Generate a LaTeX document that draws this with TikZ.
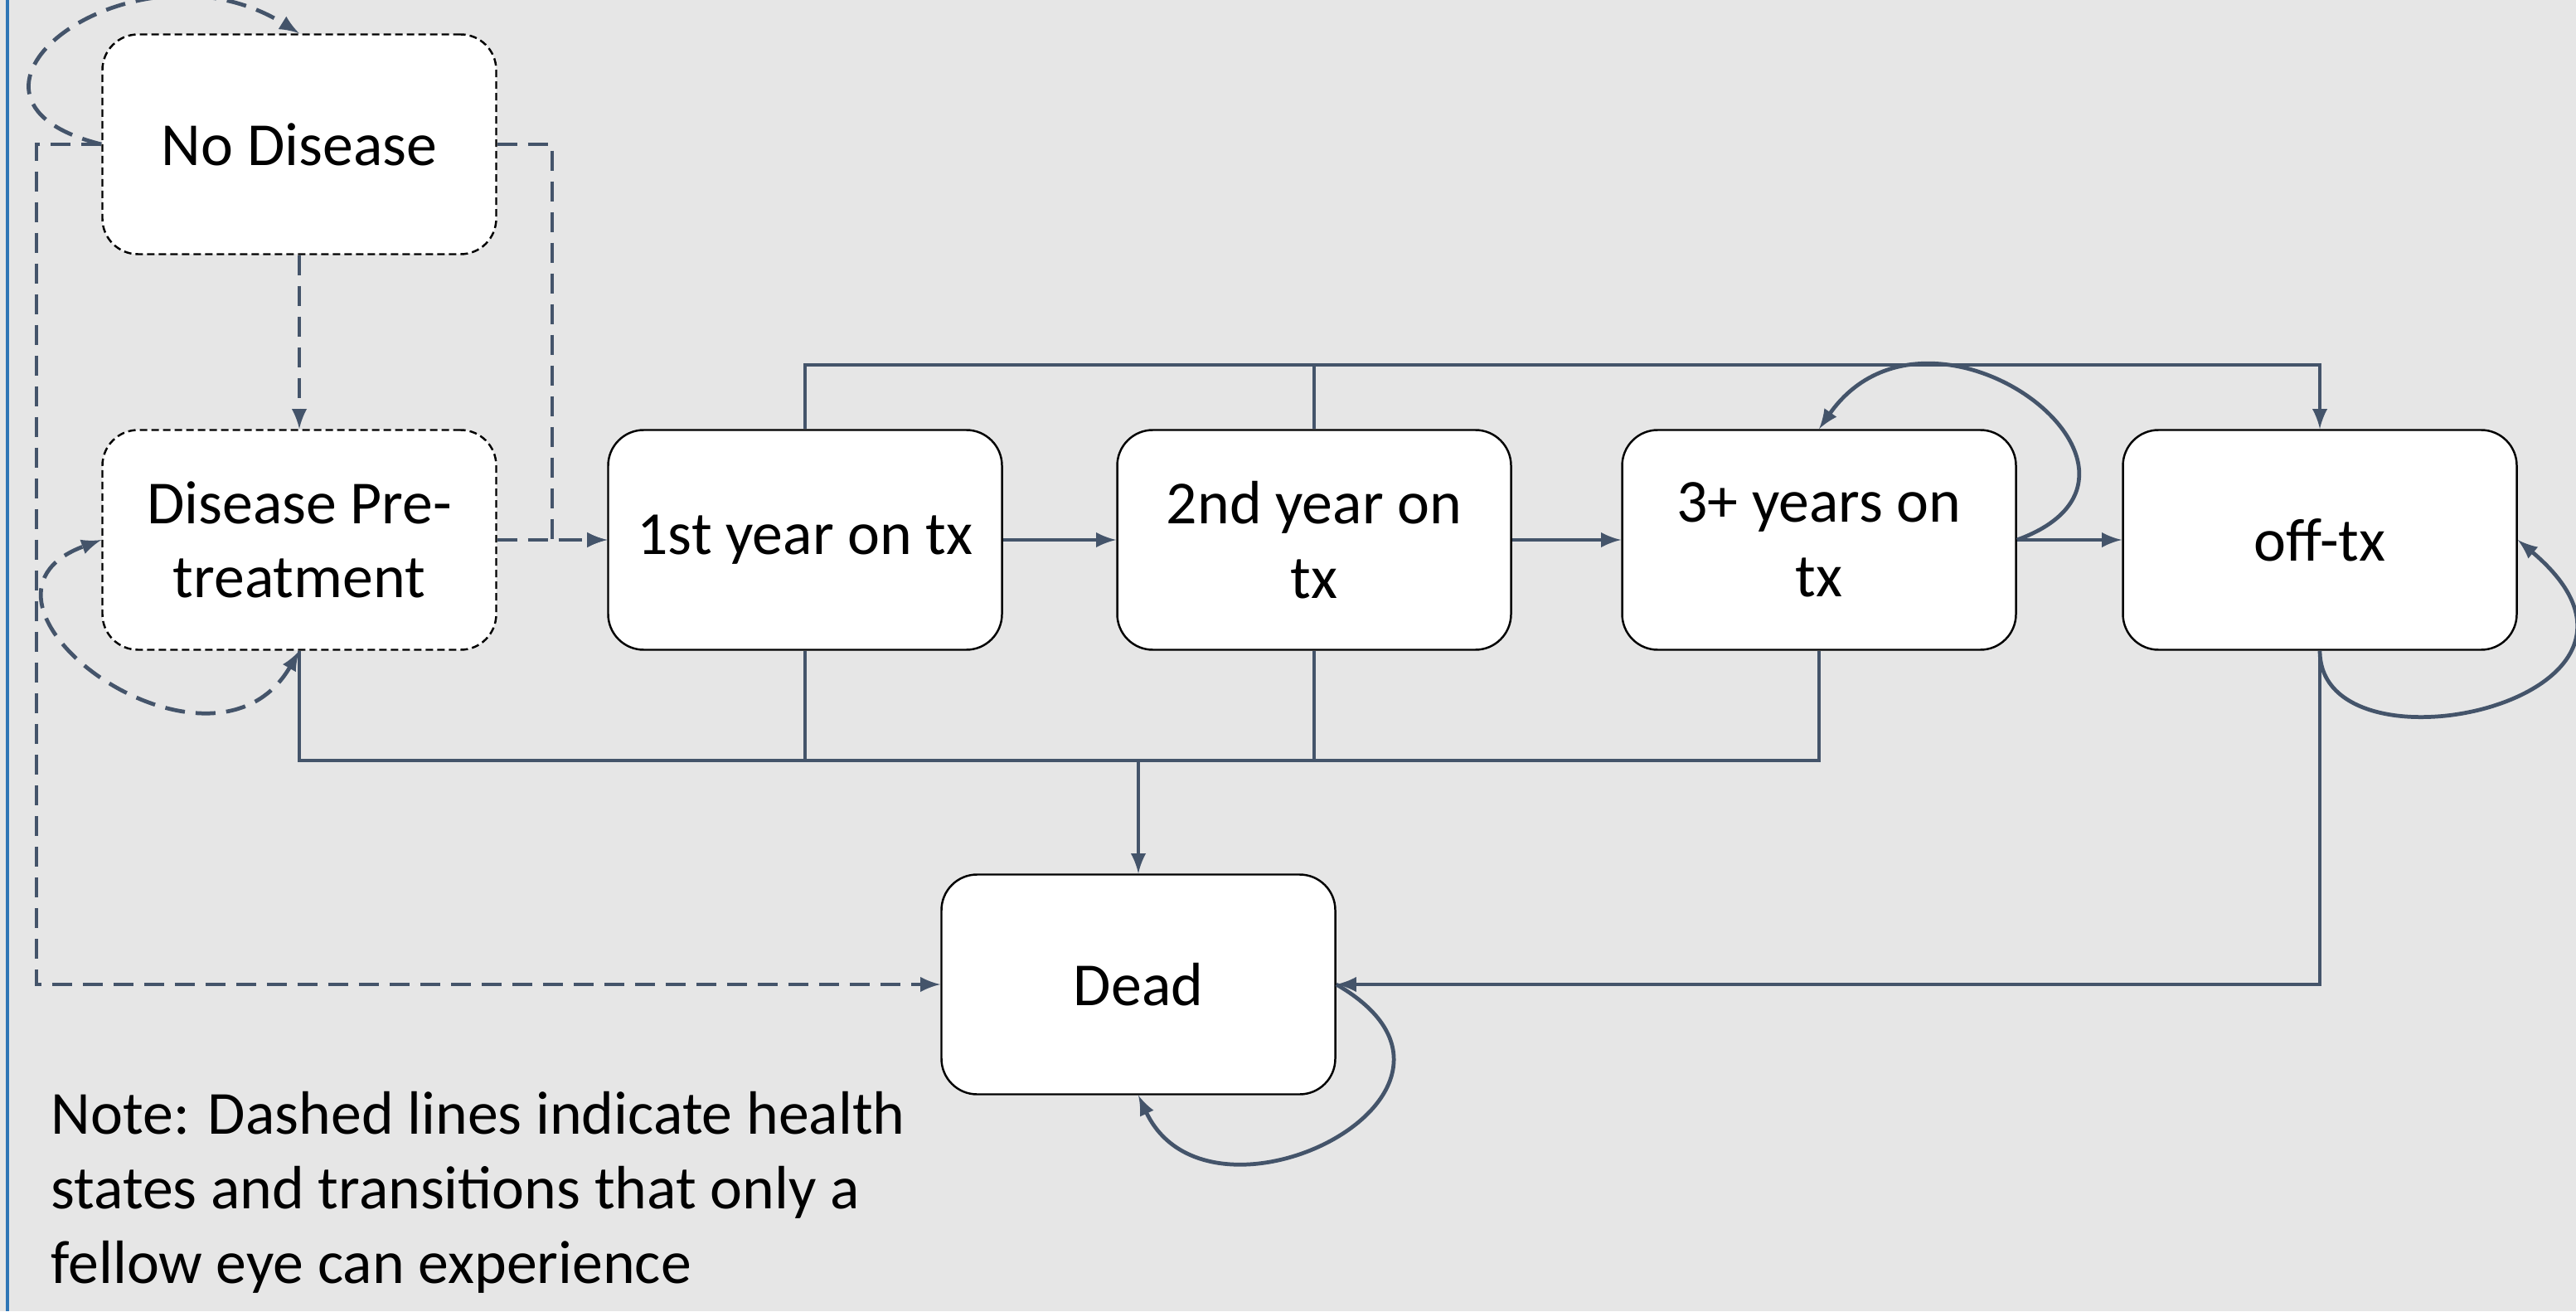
\documentclass[tikz,border=0pt]{standalone}
\usepackage{fontspec}
\setmainfont{Carlito}

\definecolor{slate}{HTML}{44546A}
\definecolor{bggray}{HTML}{E6E6E6}
\definecolor{edgeblue}{HTML}{2E75B6}

\begin{document}
\begin{tikzpicture}[
state/.style={
draw,
fill=white,
line width=0.7pt,
rounded corners=0.43cm,
align=center,
inner sep=0pt,
minimum width=4.75cm,
minimum height=2.65cm,
font=\fontsize{21}{25.5}\selectfont
},
fellow/.style={state,dash pattern=on 0.09cm off 0.05cm},
link/.style={draw=slate,line width=1.35pt},
dlink/.style={link,dash pattern=on 0.24cm off 0.13cm}
]

\useasboundingbox (0,0) rectangle (31.07,15.81);
\fill[bggray] (0,0) rectangle (31.07,15.81);
\draw[edgeblue,line width=0.9pt] (0.09,0) -- (0.09,15.81);

\coordinate (leftrail) at (0.44,0);
\coordinate (midrail) at (6.66,0);
\coordinate (topbus) at (0,11.41);
\coordinate (botbus) at (0,6.64);

\node[fellow] (ND) at (3.61,14.07) {No Disease};
\node[fellow] (DP) at (3.61,9.3) {Disease Pre-\\treatment};

\node[state] (Y1) at (9.71,9.3) {1st year on tx};
\node[state] (Y2) at (15.85,9.3) {2nd year on\\tx};
\node[state] (Y3) at (21.94,9.3) {3+ years on\\tx};
\node[state] (Off) at (27.98,9.3) {off-tx};

\node[state] (D) at (13.73,3.94) {Dead};

\node[anchor=base west,align=left,inner sep=0pt,font=\fontsize{21}{25.5}\selectfont] (note) at (0.61,0.34)
{Note: Dashed lines indicate health\\states and transitions that only a\\fellow eye can experience};

% fellow eye only
\draw[dlink,-latex] (ND) -- (DP);
\draw[dlink,-latex] (ND.west) to[out=166,in=148,looseness=2.2] (ND.north);
\draw[dlink,latex-latex] (DP.south) to[out=-120,in=200,looseness=2] (DP.west);
\draw[dlink,-latex] (ND.east) -- (ND.east -| midrail) |- (Y1.west);
\draw[dlink,-latex] (DP.east) -- (Y1.west);
\draw[dlink,-latex] (ND.west) -- (ND.west -| leftrail) |- (D.west);

% treatment chain
\draw[link,-latex] (Y1) -- (Y2);
\draw[link,-latex] (Y2) -- (Y3);
\draw[link,-latex] (Y3) -- (Off);
\draw[link,-latex] (Y3.east) to[out=20,in=55,looseness=2.2] (Y3.north);
\draw[link,-latex] (Off.south) to[out=-90,in=-40,out looseness=1.5,in looseness=2.8] (Off.east);

\draw[link,-latex] (Y1.north) -- (Y1.north |- topbus) -| (Off.north);
\draw[link] (Y2.north) -- (Y2.north |- topbus);

% to dead
\draw[link] (DP.south) -- (DP.south |- botbus) -| (Y3.south);
\draw[link] (Y1.south) -- (Y1.south |- botbus);
\draw[link] (Y2.south) -- (Y2.south |- botbus);
\draw[link,-latex] (D.north |- botbus) -- (D.north);
\draw[link,-latex] (Off.south) |- (D.east);
\draw[link,-latex] (D.east) to[out=-30,in=-65,out looseness=2.4,in looseness=1.9] (D.south);

\end{tikzpicture}
\end{document}
